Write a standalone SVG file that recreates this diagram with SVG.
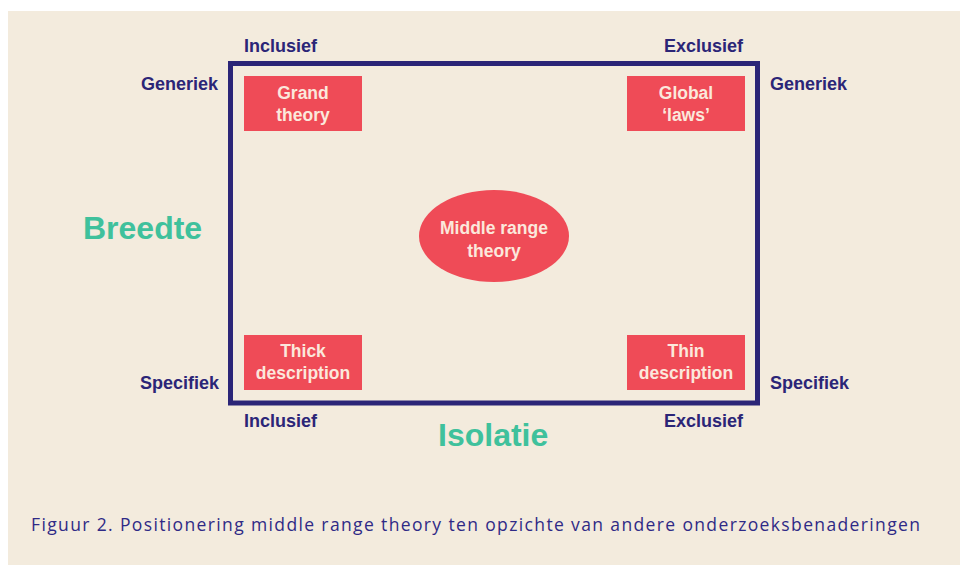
<svg xmlns="http://www.w3.org/2000/svg" width="960" height="565" viewBox="0 0 960 565">
<style>
.lbl{font-family:"Liberation Sans",Arial,sans-serif;font-weight:bold;font-size:18px;fill:#2b2577}
.axis{font-family:"Liberation Sans",Arial,sans-serif;font-weight:bold;font-size:32px;fill:#3fc19c}
.box{fill:#ef4b57}
.bt{font-family:"Liberation Sans",Arial,sans-serif;font-weight:bold;font-size:17.5px;fill:#fbe8dc;text-anchor:middle}
.cap{font-family:"Open Sans","Liberation Sans",Arial,sans-serif;font-size:17.5px;fill:#2f2a86}
</style>
<rect x="0" y="0" width="960" height="565" fill="#ffffff"/>
<rect x="8" y="11" width="952" height="554" fill="#f3ebdd"/>
<g id="connectors">
<rect id="frame" x="230.5" y="63.5" width="527" height="339.5" fill="none" stroke="#2b2577" stroke-width="5"/>
</g>
<g id="labels">
<text class="lbl" x="244" y="52">Inclusief</text>
<text class="lbl" x="743" y="52" text-anchor="end">Exclusief</text>
<text class="lbl" x="218" y="90" text-anchor="end">Generiek</text>
<text class="lbl" x="770" y="90">Generiek</text>
<text class="lbl" x="219" y="389" text-anchor="end">Specifiek</text>
<text class="lbl" x="770" y="389">Specifiek</text>
<text class="lbl" x="244" y="427">Inclusief</text>
<text class="lbl" x="743" y="427" text-anchor="end">Exclusief</text>
<text class="axis" x="83" y="239">Breedte</text>
<text class="axis" x="438" y="446">Isolatie</text>
</g>
<g id="grand-theory">
<rect class="box" x="244" y="76" width="118" height="55"/>
<text class="bt" x="303" y="99">Grand</text>
<text class="bt" x="303" y="121">theory</text>
</g>
<g id="global-laws">
<rect class="box" x="627" y="76" width="118" height="55"/>
<text class="bt" x="686" y="99">Global</text>
<text class="bt" x="686" y="121">‘laws’</text>
</g>
<g id="thick-description">
<rect class="box" x="244" y="335" width="118" height="55"/>
<text class="bt" x="303" y="357">Thick</text>
<text class="bt" x="303" y="379">description</text>
</g>
<g id="thin-description">
<rect class="box" x="627" y="335" width="118" height="55"/>
<text class="bt" x="686" y="357">Thin</text>
<text class="bt" x="686" y="379">description</text>
</g>
<g id="middle-range-theory">
<ellipse class="box" cx="494" cy="236" rx="75" ry="46"/>
<text class="bt" x="494" y="234">Middle range</text>
<text class="bt" x="494" y="257">theory</text>
</g>
<text class="cap" x="31" y="531" textLength="889" lengthAdjust="spacing">Figuur 2. Positionering middle range theory ten opzichte van andere onderzoeksbenaderingen</text>
</svg>
